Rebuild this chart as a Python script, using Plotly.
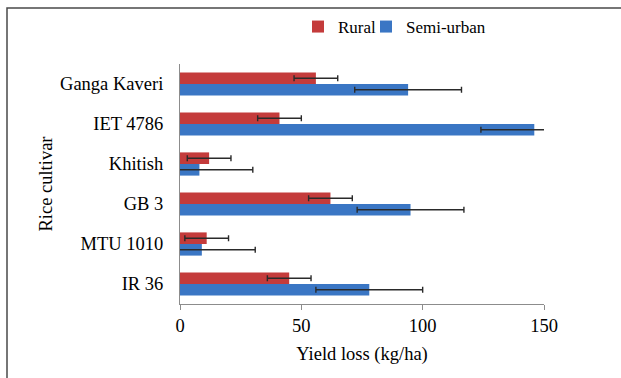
import plotly.graph_objects as go

# Rice cultivars, top to bottom
cultivars = ["Ganga Kaveri", "IET 4786", "Khitish", "GB 3", "MTU 1010", "IR 36"]

# Yield loss (kg/ha) and error margins
rural = [56, 41, 12, 62, 11, 45]
rural_err = [9, 9, 9, 9, 9, 9]
semi_urban = [94, 146, 8, 95, 9, 78]
semi_urban_err = [22, 22, 22, 22, 22, 22]

x_ticks = [0, 50, 100, 150]

FONT = "Liberation Serif, Times New Roman, serif"
FS = 18.5
LEG_FS = 17
RED = "#C43B3B"
BLUE = "#3A76C4"
ERR = "#2a2a2a"

W, H = 621, 378
L, R, T, B = 180, 77, 64, 74

fig = go.Figure()
fig.add_trace(go.Bar(
    name="Rural", y=cultivars, x=rural, orientation="h",
    marker=dict(color=RED, line=dict(width=0)),
    error_x=dict(type="data", array=rural_err, color=ERR, thickness=1.4, width=3),
    legend="legend",
))
fig.add_trace(go.Bar(
    name="Semi-urban", y=cultivars, x=semi_urban, orientation="h",
    marker=dict(color=BLUE, line=dict(width=0)),
    error_x=dict(type="data", array=semi_urban_err, color=ERR, thickness=1.4, width=3),
    legend="legend2",
))

pw = W - L - R
ph = H - T - B

# Outer frame around the chart
fig.add_shape(
    type="rect", xref="paper", yref="paper",
    x0=(7 - L) / pw, x1=(W + 10 - L) / pw,
    y0=-(H + 10 - T - ph) / ph, y1=(T + ph - 8) / ph,
    line=dict(color="#4a4a4a", width=1.5), fillcolor="rgba(0,0,0,0)", layer="below",
)

legend_style = dict(
    orientation="h", xanchor="left", yanchor="middle",
    y=(T + ph - 27) / ph,
    font=dict(family=FONT, size=LEG_FS, color="black"),
    itemwidth=30, bgcolor="rgba(0,0,0,0)",
)

fig.update_layout(
    width=W, height=H,
    margin=dict(l=L, r=R, t=T, b=B, autoexpand=False),
    paper_bgcolor="white", plot_bgcolor="white",
    barmode="group", bargap=0.42, bargroupgap=0,
    font=dict(family=FONT, size=FS, color="black"),
    showlegend=True,
    legend=dict(x=(298 - L) / pw, **legend_style),
    legend2=dict(x=(366 - L) / pw, **legend_style),
    xaxis=dict(
        range=[0, 150], tickvals=x_ticks, ticktext=[str(v) for v in x_ticks],
        showline=True, linecolor="#8c8c8c", linewidth=1,
        ticks="outside", ticklen=5, tickcolor="#8c8c8c",
        showgrid=False, zeroline=False,
        tickfont=dict(family=FONT, size=FS),
        title=dict(text="Yield loss (kg/ha)", font=dict(family=FONT, size=FS), standoff=11),
        fixedrange=True,
    ),
    yaxis=dict(
        autorange="reversed",
        showline=True, linecolor="#8c8c8c", linewidth=1,
        ticks="", showgrid=False, zeroline=False,
        tickfont=dict(family=FONT, size=FS),
        ticklabelstandoff=12,
        title=dict(text="Rice cultivar", font=dict(family=FONT, size=FS), standoff=2),
        fixedrange=True,
    ),
)

fig.write_html("out.html", config={"displayModeBar": False})
